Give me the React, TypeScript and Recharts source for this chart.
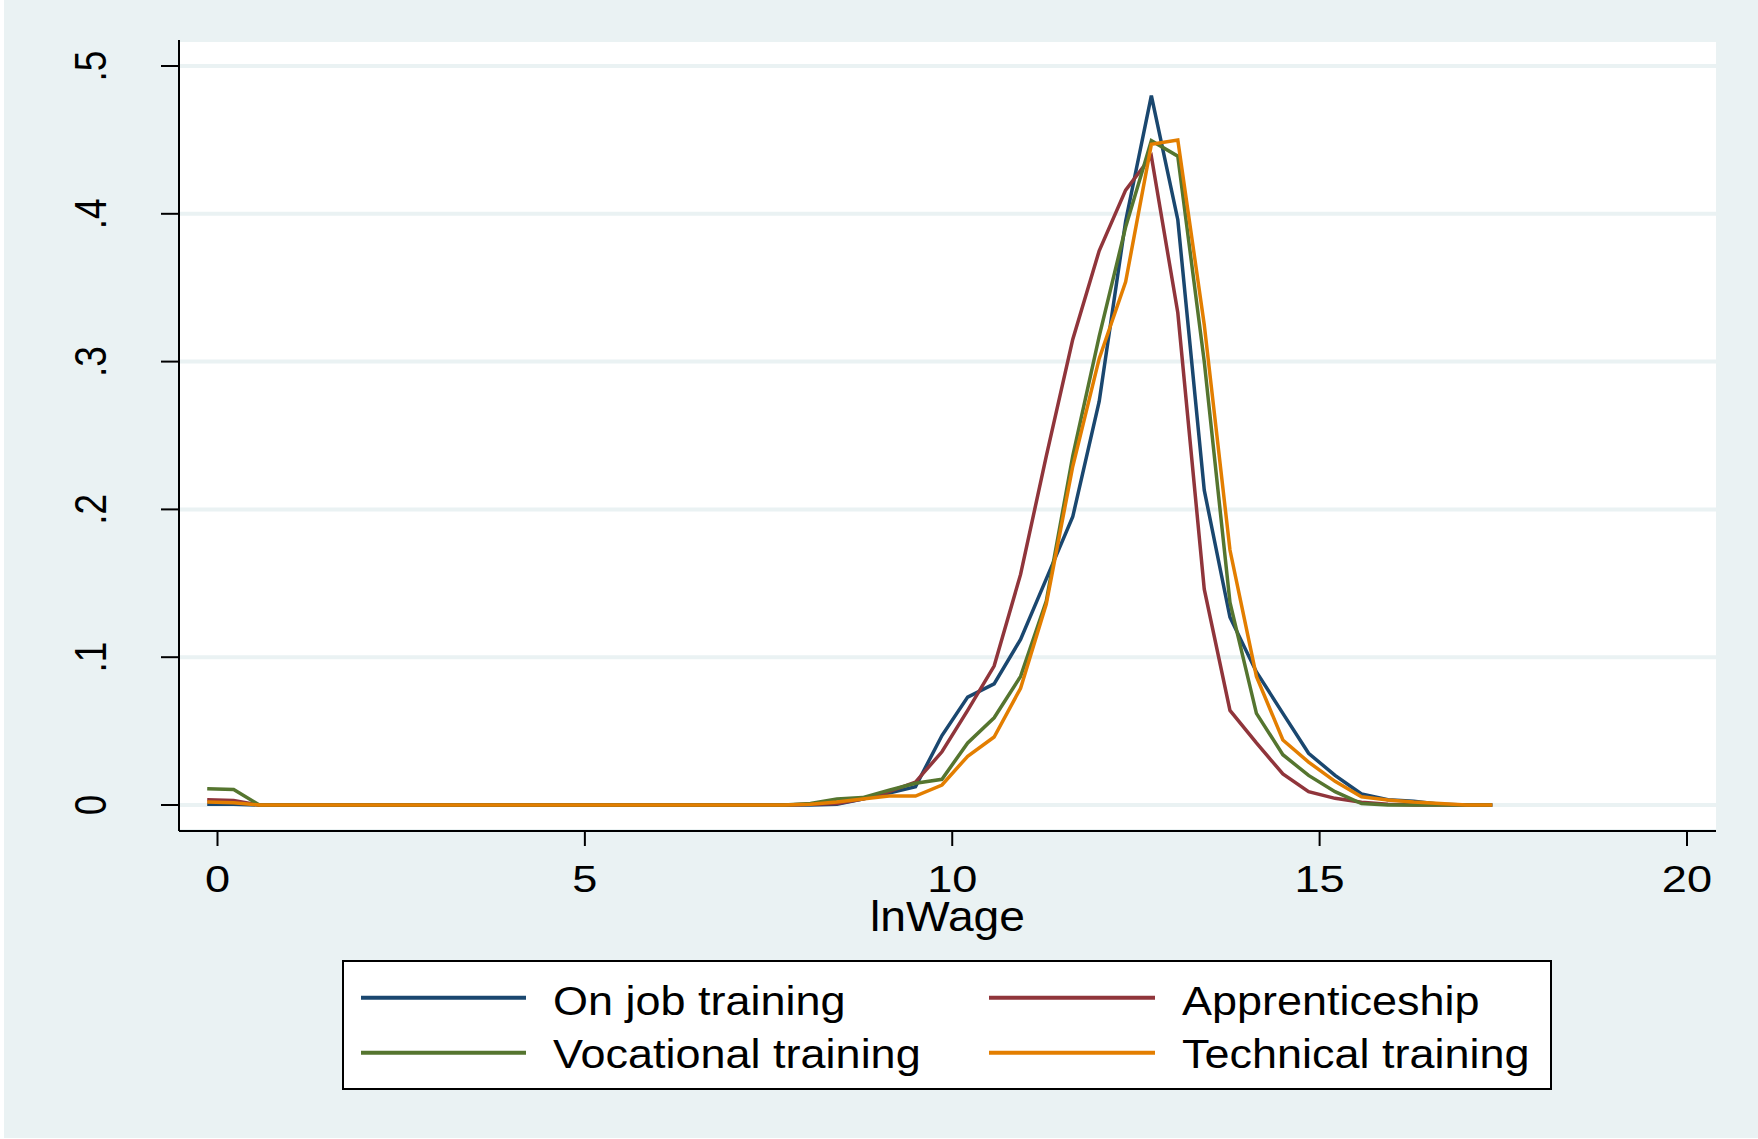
import React from 'react';
import { LineChart, Line, XAxis, YAxis, CartesianGrid, Legend, Customized } from 'recharts';

// lnWage evaluation grid (kernel density points)
const xGrid = [
  -0.14, 0.22, 0.57, 0.93, 1.29, 1.65, 2.0, 2.36, 2.72, 3.07,
  3.43, 3.79, 4.14, 4.5, 4.86, 5.21, 5.57, 5.93, 6.29, 6.64,
  7.0, 7.36, 7.71, 8.07, 8.43, 8.78, 9.14, 9.5, 9.86, 10.21,
  10.57, 10.93, 11.28, 11.64, 12.0, 12.36, 12.71, 13.07, 13.43, 13.78,
  14.14, 14.5, 14.85, 15.21, 15.57, 15.93, 16.28, 16.64, 17.0, 17.35,
];

const onJobTraining = [
  0.0005, 0.0005, 0, 0, 0, 0, 0, 0, 0, 0,
  0, 0, 0, 0, 0, 0, 0, 0, 0, 0,
  0, 0, 0, 0, 0.0005, 0.004, 0.008, 0.0124, 0.047, 0.073,
  0.082, 0.112, 0.153, 0.195, 0.273, 0.395, 0.48, 0.396, 0.213, 0.127,
  0.09, 0.062, 0.035, 0.02, 0.0074, 0.0036, 0.0025, 0.0005, 0, 0,
];

const apprenticeship = [
  0.0035, 0.003, 0, 0, 0, 0, 0, 0, 0, 0,
  0, 0, 0, 0, 0, 0, 0, 0, 0, 0,
  0, 0, 0, 0.0005, 0.001, 0.004, 0.009, 0.0155, 0.036, 0.064,
  0.094, 0.156, 0.236, 0.315, 0.375, 0.416, 0.439, 0.333, 0.146, 0.064,
  0.042, 0.021, 0.009, 0.0045, 0.0018, 0.0005, 0, 0, 0, 0,
];

const vocationalTraining = [
  0.011, 0.0105, 0, 0, 0, 0, 0, 0, 0, 0,
  0, 0, 0, 0, 0, 0, 0, 0, 0, 0,
  0, 0, 0, 0.001, 0.004, 0.005, 0.01, 0.0147, 0.0174, 0.042,
  0.059, 0.087, 0.138, 0.236, 0.317, 0.391, 0.4495, 0.439, 0.3, 0.137,
  0.062, 0.034, 0.02, 0.009, 0.001, 0, 0, 0, 0, 0,
];

const technicalTraining = [
  0.002, 0.0015, 0, 0, 0, 0, 0, 0, 0, 0,
  0, 0, 0, 0, 0, 0, 0, 0, 0, 0,
  0, 0, 0, 0.0005, 0.002, 0.004, 0.006, 0.006, 0.0135, 0.033,
  0.046, 0.079, 0.136, 0.229, 0.302, 0.354, 0.447, 0.45, 0.325, 0.1725,
  0.087, 0.044, 0.029, 0.016, 0.0056, 0.0034, 0.002, 0.001, 0, 0,
];

const xTicks = [0, 5, 10, 15, 20];
const yTicks = [0, 0.1, 0.2, 0.3, 0.4, 0.5];
const yTickLabels = ['0', '.1', '.2', '.3', '.4', '.5'];
const xAxisTitle = 'lnWage';
const seriesNames = ['On job training', 'Apprenticeship', 'Vocational training', 'Technical training'];
const seriesKeys = ['onJob', 'appr', 'voc', 'tech'];
const seriesColors = ['#1a476f', '#90353b', '#55752f', '#e37e00'];

const data = xGrid.map((x, i) => ({
  x,
  onJob: onJobTraining[i],
  appr: apprenticeship[i],
  voc: vocationalTraining[i],
  tech: technicalTraining[i],
}));

const FONT = '"Liberation Sans", Arial, Helvetica, sans-serif';
const BG = '#eaf2f3';

const XTick = (props: any) => {
  const { x, y, payload } = props;
  return (
    <text
      transform={`translate(${x},${y + 46}) scale(1.22,1)`}
      textAnchor="middle"
      fontFamily={FONT}
      fontSize={37}
      fill="#000"
    >
      {String(payload.value)}
    </text>
  );
};

const YTick = (props: any) => {
  const { y, payload } = props;
  const idx = yTicks.findIndex((t) => Math.abs(t - payload.value) < 1e-9);
  const label = idx >= 0 ? yTickLabels[idx] : String(payload.value);
  return (
    <text
      transform={`translate(106,${y}) scale(1.22,1) rotate(-90)`}
      textAnchor="middle"
      fontFamily={FONT}
      fontSize={37}
      fill="#000"
    >
      {label}
    </text>
  );
};

const AxisTitle = () => (
  <text
    transform="translate(947.5,931) scale(1.1,1)"
    textAnchor="middle"
    fontFamily={FONT}
    fontSize={42}
    fill="#000"
  >
    {xAxisTitle}
  </text>
);

const LegendBox = (props: any) => {
  const payload: any[] = (props && props.payload) || [];
  const items = seriesKeys.map((k, i) => {
    const p = payload.find((e) => e.dataKey === k);
    return { name: p ? p.value : seriesNames[i], color: p ? p.color : seriesColors[i] };
  });
  const cols = [
    { x1: 19, x2: 184, tx: 211 },
    { x1: 647, x2: 813, tx: 840 },
  ];
  const rows = [
    { ly: 37.7, ty: 55 },
    { ly: 92.7, ty: 108 },
  ];
  return (
    <svg width={1210} height={130} style={{ display: 'block' }}>
      <rect x={1} y={1} width={1208} height={128} fill="#fff" stroke="#000" strokeWidth={2} />
      {items.map((it, i) => {
        const c = cols[i % 2];
        const r = rows[Math.floor(i / 2)];
        return (
          <g key={i}>
            <line x1={c.x1} x2={c.x2} y1={r.ly} y2={r.ly} stroke={it.color} strokeWidth={4} />
            <text
              transform={`translate(${c.tx},${r.ty}) scale(1.125,1)`}
              fontFamily={FONT}
              fontSize={40}
              fill="#000"
            >
              {it.name}
            </text>
          </g>
        );
      })}
    </svg>
  );
};

export default function App() {
  return (
    <div style={{ position: 'absolute', left: 0, top: 0, width: 1758, height: 1139, background: '#fff' }}>
      <div style={{ position: 'absolute', left: 4, top: 0, width: 1754, height: 1138, background: BG }} />
      <div style={{ position: 'absolute', left: 0, top: 0 }}>
        <LineChart
          width={1758}
          height={1139}
          data={data}
          margin={{ top: 40, right: 42, left: 0, bottom: 0 }}
        >
          <CartesianGrid
            vertical={false}
            horizontal={true}
            stroke={BG}
            strokeWidth={4}
            fill="#ffffff"
            fillOpacity={1}
          />
          <XAxis
            dataKey="x"
            type="number"
            domain={[-0.524, 20.395]}
            ticks={xTicks}
            allowDataOverflow
            height={308}
            tickSize={15}
            tickMargin={0}
            axisLine={{ stroke: '#000', strokeWidth: 2 }}
            tickLine={{ stroke: '#000', strokeWidth: 2 }}
            tick={<XTick />}
            interval={0}
          />
          <YAxis
            type="number"
            domain={[-0.0176, 0.5176]}
            ticks={yTicks}
            allowDataOverflow
            width={179}
            tickSize={18}
            tickMargin={0}
            axisLine={{ stroke: '#000', strokeWidth: 2 }}
            tickLine={{ stroke: '#000', strokeWidth: 2 }}
            tick={<YTick />}
            interval={0}
          />
          {seriesKeys.map((k, i) => (
            <Line
              key={k}
              type="linear"
              dataKey={k}
              name={seriesNames[i]}
              stroke={seriesColors[i]}
              strokeWidth={3.5}
              dot={false}
              activeDot={false}
              isAnimationActive={false}
            />
          ))}
          <Legend
            layout="horizontal"
            verticalAlign="middle"
            align="center"
            content={<LegendBox />}
            wrapperStyle={{ position: 'absolute', left: 342, top: 960, width: 1210, height: 130, margin: 0, padding: 0 }}
          />
          <Customized component={AxisTitle} />
        </LineChart>
      </div>
    </div>
  );
}
